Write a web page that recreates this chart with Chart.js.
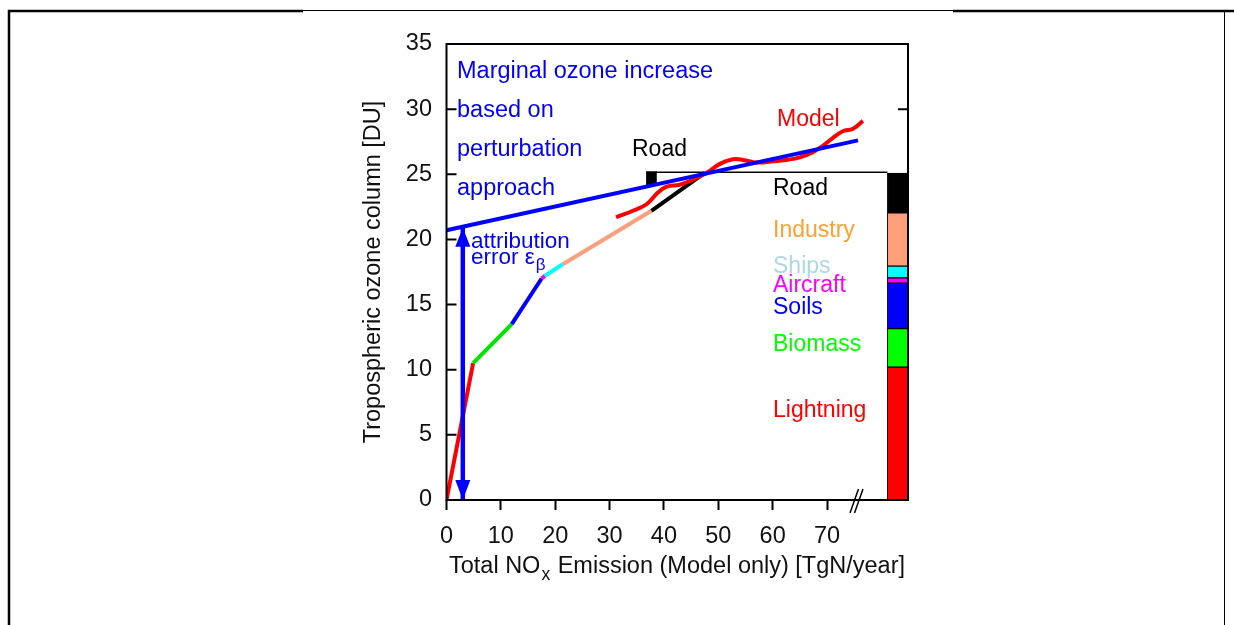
<!DOCTYPE html>
<html>
<head>
<meta charset="utf-8">
<script src="https://cdn.jsdelivr.net/npm/chart.js@4.4.1/dist/chart.umd.min.js"></script>
<style>
  html, body { margin: 0; padding: 0; background: #fff; }
  canvas { display: block; }
</style>
</head>
<body>
<canvas id="c" width="1234" height="625"></canvas>
<script>
// Cumulative ozone column as emission sectors are added one after another
// (total NOx emission in TgN/year, tropospheric ozone column in DU)
const attributionX = [0, 4.9, 12.0, 17.5, 18.1, 21.4, 37.7, 47.5];
const attributionY = [0, 10.5, 13.5, 17.0, 17.2, 18.1, 22.2, 25.1];

// Ozone column attributed to each sector (DU), stacked from the bottom
const sectorNames = ['Lightning', 'Biomass', 'Soils', 'Aircraft', 'Ships', 'Industry', 'Road'];
const sectorOzone = [10.2, 2.95, 3.5, 0.4, 0.9, 4.1, 3.05];

// Full model runs with scaled total emissions
const modelX = [31.2, 34.3, 36.8, 38.9, 40.5, 42.9, 45.4, 47.8, 50.3, 52.7, 54.6,
                57.0, 60.1, 62.5, 65.0, 67.4, 69.3, 71.1, 72.9, 74.8, 76.6];
const modelY = [21.7, 22.2, 22.7, 23.6, 24.05, 24.2, 24.6, 25.1, 25.8, 26.15, 26.1,
                25.9, 26.0, 26.1, 26.3, 26.7, 27.2, 27.8, 28.3, 28.5, 29.1];

// Marginal ozone increase from the perturbation approach (tangent line)
const marginalX = [0, 75.7];
const marginalY = [20.7, 27.6];

// Attribution error arrow
const arrowX = [3.0, 3.0];
const arrowY = [0, 20.9];

// Road perturbation marker and the top of the budget box
const roadMarkX = 37.7;
const roadMarkY = [24.2, 25.2];
const budgetLineX = [38.4, 81.1];
const budgetLineY = [25.15, 25.15];
const budgetBarX = 83.0;

// Axis ticks
const xTicks = [0, 10, 20, 30, 40, 50, 60, 70];
const yTicks = [0, 5, 10, 15, 20, 25, 30, 35];

// ---- styles ----
const FONT = "'Liberation Sans', Arial, Helvetica, sans-serif";
const segColors = {
  Lightning: '#ff0000', Biomass: '#00e600', Soils: '#0000ff', Aircraft: '#ff00ff',
  Ships: '#00ffff', Industry: '#f9a07c', Road: '#000000'
};
const barColors = {
  Lightning: '#ff0000', Biomass: '#00ff00', Soils: '#0000ff', Aircraft: '#ff00ff',
  Ships: '#00ffff', Industry: '#ffa07a', Road: '#000000'
};
const labelColors = {
  Road: '#000000', Industry: '#ffa030', Ships: '#add8e6', Aircraft: '#ff00ff',
  Soils: '#0000ff', Biomass: '#00ff00', Lightning: '#ff0000'
};
// label baselines for the budget legend (pixels)
const labelBase = {
  Road: 195, Industry: 237, Ships: 273, Aircraft: 292, Soils: 314, Biomass: 351, Lightning: 417
};

const pts = (xs, ys) => xs.map((x, i) => ({ x: x, y: ys[i] }));

// stacked floating bars for the budget column
let run = 0;
const budgetSets = sectorNames.map((name, i) => {
  const lo = run; run += sectorOzone[i];
  return {
    type: 'bar', label: name,
    data: [{ x: budgetBarX, y: [lo, run] }],
    backgroundColor: barColors[name], borderColor: '#000', borderWidth: 1,
    borderSkipped: false, barThickness: 20.6, grouped: false, order: 5
  };
});

const datasets = [
  ...budgetSets,
  {
    type: 'bar', label: 'Road marker',
    data: [{ x: roadMarkX, y: roadMarkY }],
    backgroundColor: '#000', borderWidth: 0, barThickness: 10, grouped: false, order: 5
  },
  {
    type: 'line', label: 'budget top', data: pts(budgetLineX, budgetLineY),
    borderColor: '#000', borderWidth: 1.5, pointRadius: 0, order: 4
  },
  {
    type: 'line', label: 'attribution', data: pts(attributionX, attributionY),
    borderWidth: 4, pointRadius: 0, borderCapStyle: 'butt', order: 3,
    segment: { borderColor: c => segColors[sectorNames[c.p0DataIndex]] }
  },
  {
    type: 'line', label: 'Model', data: pts(modelX, modelY),
    borderColor: '#ff0000', borderWidth: 4, pointRadius: 0, tension: 0.4, order: 2
  },
  {
    type: 'line', label: 'marginal', data: pts(marginalX, marginalY),
    borderColor: '#0000ff', borderWidth: 4, pointRadius: 0, order: 1
  },
  {
    type: 'line', label: 'error', data: pts(arrowX, arrowY),
    borderColor: '#0000ff', borderWidth: 4.5, pointRadius: 0, order: 1
  }
];

function text(ctx, s, x, y, color, size, align) {
  ctx.font = size + 'px ' + FONT;
  ctx.fillStyle = color;
  ctx.textAlign = align || 'left';
  ctx.textBaseline = 'alphabetic';
  ctx.fillText(s, x, y);
  return ctx.measureText(s).width;
}

const decor = {
  id: 'decor',
  afterDraw(chart) {
    const ctx = chart.ctx;
    const a = chart.chartArea;
    const xs = chart.scales.x, ys = chart.scales.y;
    ctx.save();

    // page frame
    ctx.strokeStyle = '#000';
    ctx.lineWidth = 2.5;
    ctx.beginPath();
    ctx.moveTo(9, 625); ctx.lineTo(9, 11); ctx.lineTo(303, 11);
    ctx.moveTo(953, 11); ctx.lineTo(1234, 11);
    ctx.stroke();
    ctx.lineWidth = 1;
    ctx.beginPath();
    ctx.moveTo(303, 10.5); ctx.lineTo(953, 10.5);
    ctx.moveTo(1224.5, 11); ctx.lineTo(1224.5, 625);
    ctx.stroke();

    // plot frame
    ctx.lineWidth = 2;
    ctx.strokeRect(a.left, a.top, a.right - a.left, a.bottom - a.top);

    // inward y ticks (left everywhere, right only above the budget box)
    ctx.beginPath();
    yTicks.forEach(v => {
      const p = ys.getPixelForValue(v);
      ctx.moveTo(a.left, p); ctx.lineTo(a.left + 10, p);
      if (v > budgetLineY[0] && v < ys.max) { ctx.moveTo(a.right, p); ctx.lineTo(a.right - 10, p); }
    });
    ctx.stroke();

    // axis break marks
    ctx.lineWidth = 1.5;
    ctx.beginPath();
    ctx.moveTo(850, 513); ctx.lineTo(858.5, 489);
    ctx.moveTo(854.5, 513); ctx.lineTo(863, 489);
    ctx.stroke();

    // arrow heads on the attribution error arrow
    const ax = xs.getPixelForValue(arrowX[0]);
    const yb = ys.getPixelForValue(arrowY[0]);
    const yt = ys.getPixelForValue(arrowY[1]);
    ctx.fillStyle = '#0000ff';
    ctx.beginPath();
    ctx.moveTo(ax, yb); ctx.lineTo(ax - 7.5, yb - 20); ctx.lineTo(ax + 7.5, yb - 20); ctx.closePath();
    ctx.moveTo(ax, yt); ctx.lineTo(ax - 7.5, yt + 19); ctx.lineTo(ax + 7.5, yt + 19); ctx.closePath();
    ctx.fill();

    // annotations
    const blue = '#0000ff';
    text(ctx, 'Marginal ozone increase', 457, 78, blue, 23.5);
    text(ctx, 'based on', 457, 117, blue, 23.5);
    text(ctx, 'perturbation', 457, 156, blue, 23.5);
    text(ctx, 'approach', 457, 195, blue, 23.5);
    text(ctx, 'attribution', 471, 248, blue, 22.5);
    const w = text(ctx, 'error ε', 471, 264, blue, 22.5);
    text(ctx, 'β', 471 + w + 1, 270, blue, 17);
    text(ctx, 'Road', 632, 156, '#000', 23);
    text(ctx, 'Model', 777, 126, '#ff0000', 23);
    sectorNames.forEach(n => text(ctx, n, 773, labelBase[n], labelColors[n], 23));

    // x-axis title with subscript
    const big = 23.5, small = 17.5;
    const s1 = 'Total NO', s2 = 'x', s3 = ' Emission (Model only) [TgN/year]';
    ctx.font = big + 'px ' + FONT;
    const w1 = ctx.measureText(s1).width, w3 = ctx.measureText(s3).width;
    ctx.font = small + 'px ' + FONT;
    const w2 = ctx.measureText(s2).width;
    let x0 = 677 - (w1 + w2 + w3 + 2) / 2;
    x0 += text(ctx, s1, x0, 573, '#111', big);
    x0 += text(ctx, s2, x0 + 1, 580, '#111', small) + 2;
    text(ctx, s3, x0, 573, '#111', big);

    ctx.restore();
  }
};

new Chart(document.getElementById('c'), {
  type: 'scatter',
  data: { datasets: datasets },
  options: {
    responsive: false,
    animation: false,
    events: [],
    layout: { padding: { left: 355, top: 44, right: 326, bottom: 0 } },
    plugins: { legend: { display: false }, tooltip: { enabled: false } },
    scales: {
      x: {
        type: 'linear', min: 0, max: 84.9, offset: false,
        afterBuildTicks: s => { s.ticks = xTicks.map(v => ({ value: v })); },
        afterFit: s => { s.height = 125; },
        grid: { display: true, drawOnChartArea: false, drawTicks: true, tickLength: 10,
                tickWidth: 2, tickColor: '#000', offset: false },
        border: { display: false },
        ticks: { font: { family: FONT, size: 23.5 }, color: '#111', padding: 12.5, maxRotation: 0 }
      },
      y: {
        type: 'linear', min: 0, max: 35,
        afterBuildTicks: s => { s.ticks = yTicks.map(v => ({ value: v })); },
        afterFit: s => { s.width = 91.5; },
        grid: { display: false, drawTicks: false },
        border: { display: false },
        ticks: { font: { family: FONT, size: 23.5 }, color: '#111', padding: 14.5 },
        title: { display: true, text: 'Tropospheric ozone column [DU]',
                 font: { family: FONT, size: 23.5 }, color: '#111', padding: { top: 4.5, bottom: 0 } }
      }
    }
  },
  plugins: [decor]
});
</script>
</body>
</html>
